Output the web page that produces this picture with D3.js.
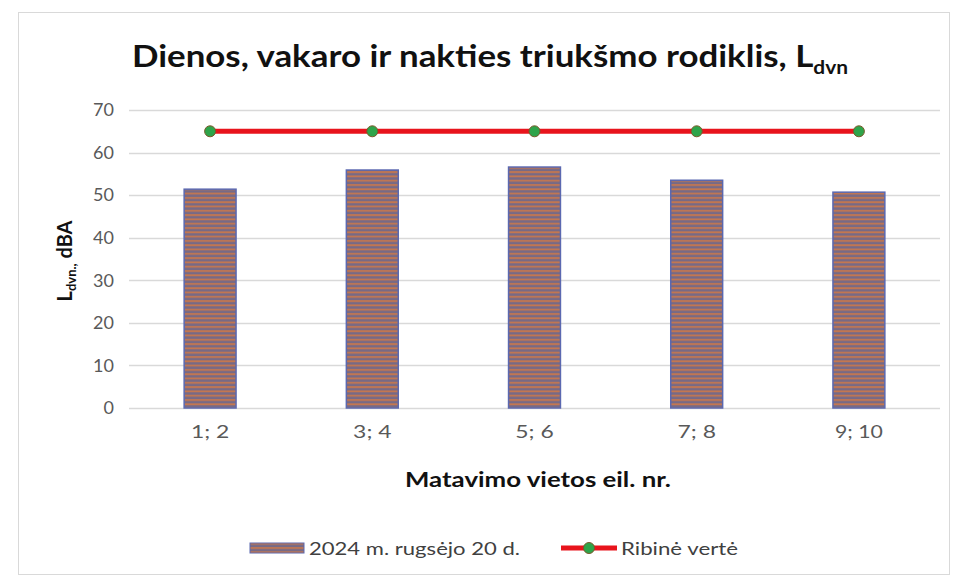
<!DOCTYPE html>
<html>
<head>
<meta charset="utf-8">
<script src="https://cdn.jsdelivr.net/npm/d3@7"></script>
<style>
  body { margin: 0; background: #fff; }
  text { font-family: Lato, "Open Sans", sans-serif; }
</style>
</head>
<body>
<script>
var categories = ["1; 2", "3; 4", "5; 6", "7; 8", "9; 10"];
var measured = [51.4, 55.9, 56.6, 53.5, 50.7];
var limit = [65, 65, 65, 65, 65];
var yTicks = [0, 10, 20, 30, 40, 50, 60, 70];
var seriesNames = ["2024 m. rugsėjo 20 d.", "Ribinė vertė"];

var W = 957, H = 582;
var margin = {top: 110, right: 17, bottom: 174, left: 129};
var width = W - margin.left - margin.right,
    height = H - margin.top - margin.bottom;

var svg = d3.select("body").append("svg")
    .attr("width", W)
    .attr("height", H);

// stripes for the bars
var defs = svg.append("defs");
var pat = defs.append("pattern")
    .attr("id", "stripes")
    .attr("patternUnits", "userSpaceOnUse")
    .attr("width", 8).attr("height", 4.3);
pat.append("rect").attr("width", 8).attr("height", 4.3).attr("fill", "#776a86");
pat.append("rect").attr("y", 1).attr("width", 8).attr("height", 1.8).attr("fill", "#c5774f");

svg.append("rect")
    .attr("x", 18.5).attr("y", 12.5)
    .attr("width", 931).attr("height", 562)
    .attr("fill", "#fff")
    .attr("stroke", "#d9d9d9");

// the source picture is stretched sideways, so texts get a textLength
svg.append("text")
    .attr("x", 132).attr("y", 67)
    .attr("font-size", 30)
    .attr("font-weight", "bold")
    .attr("fill", "#111")
    .attr("textLength", 716)
    .attr("lengthAdjust", "spacingAndGlyphs")
    .text("Dienos, vakaro ir nakties triukšmo rodiklis, L")
    .append("tspan")
    .attr("font-size", 18)
    .attr("dy", 7)
    .text("dvn");

var g = svg.append("g")
    .attr("transform", "translate(" + margin.left + "," + margin.top + ")");

var x = d3.scaleBand()
    .domain(categories)
    .range([0, width])
    .paddingInner(0.68)
    .paddingOuter(0.34);

var y = d3.scaleLinear()
    .domain([0, 70])
    .range([height, 0]);

// gridlines
g.append("g")
    .selectAll("line")
    .data(yTicks)
    .enter().append("line")
    .attr("x1", 0).attr("x2", width)
    .attr("y1", function(d) { return Math.round(y(d)) + 0.5; })
    .attr("y2", function(d) { return Math.round(y(d)) + 0.5; })
    .attr("stroke", "#d9d9d9")
    .attr("stroke-width", 1.3);

var yAxis = g.append("g")
    .call(d3.axisLeft(y).tickValues(yTicks).tickSize(0).tickPadding(15));
yAxis.select(".domain").remove();
yAxis.selectAll("text")
    .attr("font-size", 18)
    .attr("fill", "#595959");

var xAxis = g.append("g")
    .attr("transform", "translate(0," + height + ")")
    .call(d3.axisBottom(x).tickSize(0).tickPadding(17));
xAxis.select(".domain").remove();
xAxis.selectAll("text")
    .attr("font-size", 18)
    .attr("fill", "#595959")
    .attr("textLength", function(d) { return d.length * 9.6; })
    .attr("lengthAdjust", "spacingAndGlyphs");

// bars
g.selectAll(".bar")
    .data(measured)
    .enter().append("rect")
    .attr("class", "bar")
    .attr("x", function(d, i) { return x(categories[i]); })
    .attr("y", function(d) { return y(d); })
    .attr("width", x.bandwidth())
    .attr("height", function(d) { return height - y(d); })
    .attr("fill", "url(#stripes)")
    .attr("stroke", "#5b68b0")
    .attr("stroke-width", 1.5);

// limit line
var line = d3.line()
    .x(function(d, i) { return x(categories[i]) + x.bandwidth() / 2; })
    .y(function(d) { return y(d); });

g.append("path")
    .datum(limit)
    .attr("d", line)
    .attr("fill", "none")
    .attr("stroke", "#e8141c")
    .attr("stroke-width", 5);

g.selectAll(".dot")
    .data(limit)
    .enter().append("circle")
    .attr("class", "dot")
    .attr("cx", function(d, i) { return x(categories[i]) + x.bandwidth() / 2; })
    .attr("cy", function(d) { return y(d); })
    .attr("r", 5.5)
    .attr("fill", "#2ea44a")
    .attr("stroke", "#7a5a2a")
    .attr("stroke-width", 1);

// axis titles
svg.append("text")
    .attr("transform", "translate(72,261) rotate(-90)")
    .attr("text-anchor", "middle")
    .attr("font-size", 20)
    .attr("font-weight", "bold")
    .attr("fill", "#111")
    .text("L")
    .append("tspan").attr("font-size", 13).attr("dy", 4).text("dvn.,")
    .select(function() { return this.parentNode; })
    .append("tspan").attr("dy", -4).text(" dBA");

svg.append("text")
    .attr("x", 405)
    .attr("y", 487)
    .attr("font-size", 21)
    .attr("font-weight", "bold")
    .attr("fill", "#111")
    .attr("textLength", 266)
    .attr("lengthAdjust", "spacingAndGlyphs")
    .text("Matavimo vietos eil. nr.");

// legend
var leg = svg.append("g");
leg.append("rect")
    .attr("x", 250).attr("y", 543)
    .attr("width", 54).attr("height", 10)
    .attr("fill", "url(#stripes)")
    .attr("stroke", "#5b68b0");
leg.append("text")
    .attr("x", 309).attr("y", 555)
    .attr("font-size", 18)
    .attr("fill", "#404040")
    .attr("textLength", 211)
    .attr("lengthAdjust", "spacingAndGlyphs")
    .text(seriesNames[0]);
leg.append("line")
    .attr("x1", 561).attr("x2", 617)
    .attr("y1", 548).attr("y2", 548)
    .attr("stroke", "#e8141c")
    .attr("stroke-width", 5);
leg.append("circle")
    .attr("cx", 589).attr("cy", 548).attr("r", 5.5)
    .attr("fill", "#2ea44a")
    .attr("stroke", "#7a5a2a");
leg.append("text")
    .attr("x", 621).attr("y", 555)
    .attr("font-size", 18)
    .attr("fill", "#404040")
    .attr("textLength", 117)
    .attr("lengthAdjust", "spacingAndGlyphs")
    .text(seriesNames[1]);
</script>
</body>
</html>
